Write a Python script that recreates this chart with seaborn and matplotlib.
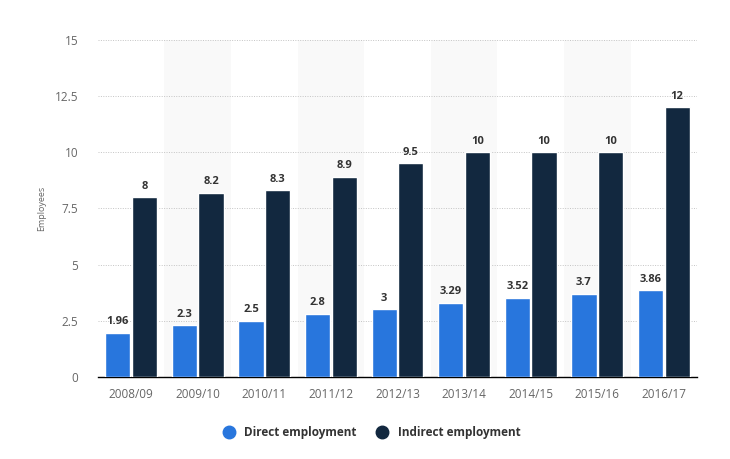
import matplotlib
matplotlib.use("Agg")
import matplotlib.pyplot as plt
import pandas as pd
import seaborn as sns
from matplotlib.lines import Line2D

years = ["2008/09", "2009/10", "2010/11", "2011/12", "2012/13",
         "2013/14", "2014/15", "2015/16", "2016/17"]
direct = [1.96, 2.3, 2.5, 2.8, 3, 3.29, 3.52, 3.7, 3.86]
indirect = [8, 8.2, 8.3, 8.9, 9.5, 10, 10, 10, 12]
direct_labels = ["1.96", "2.3", "2.5", "2.8", "3", "3.29", "3.52", "3.7", "3.86"]
indirect_labels = ["8", "8.2", "8.3", "8.9", "9.5", "10", "10", "10", "12"]
series = ["Direct employment", "Indirect employment"]
colors = ["#2876dd", "#12283f"]

df = pd.DataFrame({
    "year": years * 2,
    "value": direct + indirect,
    "series": [series[0]] * len(years) + [series[1]] * len(years),
})

sns.set_style("white")
plt.rcParams["font.family"] = ["Open Sans", "DejaVu Sans"]

fig = plt.figure(figsize=(7.3, 4.59), dpi=100)
ax = fig.add_axes([0.134, 0.179, 0.821, 0.734])

# alternating column shading
for i in range(1, len(years), 2):
    ax.axvspan(i - 0.5, i + 0.5, ymin=0, ymax=1, color="#f9f9f9", zorder=0, lw=0)

sns.barplot(data=df, x="year", y="value", hue="series", palette=colors,
            width=0.8, gap=0.05, ax=ax, legend=False, zorder=3, saturation=1)

for container, labels in zip(ax.containers, [direct_labels, indirect_labels]):
    ax.bar_label(container, labels=labels, padding=4, fontsize=8,
                 fontweight="bold", color="#333333")

ax.set_xlim(-0.5, len(years) - 0.5)
ax.set_ylim(0, 15)
ax.set_yticks([0, 2.5, 5, 7.5, 10, 12.5, 15])
ax.set_yticklabels(["0", "2.5", "5", "7.5", "10", "12.5", "15"])
ax.yaxis.grid(True, linestyle=(0, (1, 1.5)), color="#c4c4c4", lw=0.7, zorder=1)
ax.set_axisbelow(True)
for s in ["top", "right", "left"]:
    ax.spines[s].set_visible(False)
ax.spines["bottom"].set_color("#000000")
ax.spines["bottom"].set_linewidth(1)
ax.tick_params(axis="both", length=0, labelsize=8.5, labelcolor="#666666")
ax.tick_params(axis="x", pad=8)
ax.tick_params(axis="y", pad=14)
ax.set_xlabel("")
ax.set_ylabel("Employees", fontsize=6.5, color="#666666", labelpad=6)

handles = [Line2D([0], [0], marker="o", linestyle="", markersize=9,
                  markerfacecolor=c, markeredgecolor=c) for c in colors]
fig.legend(handles, series, loc="center", bbox_to_anchor=(0.505, 0.058), ncol=2,
           frameon=False, handletextpad=0.3, columnspacing=1.2,
           prop={"size": 8.5, "weight": "bold"}, labelcolor="#333333")

fig.savefig("out.png", dpi=100)
